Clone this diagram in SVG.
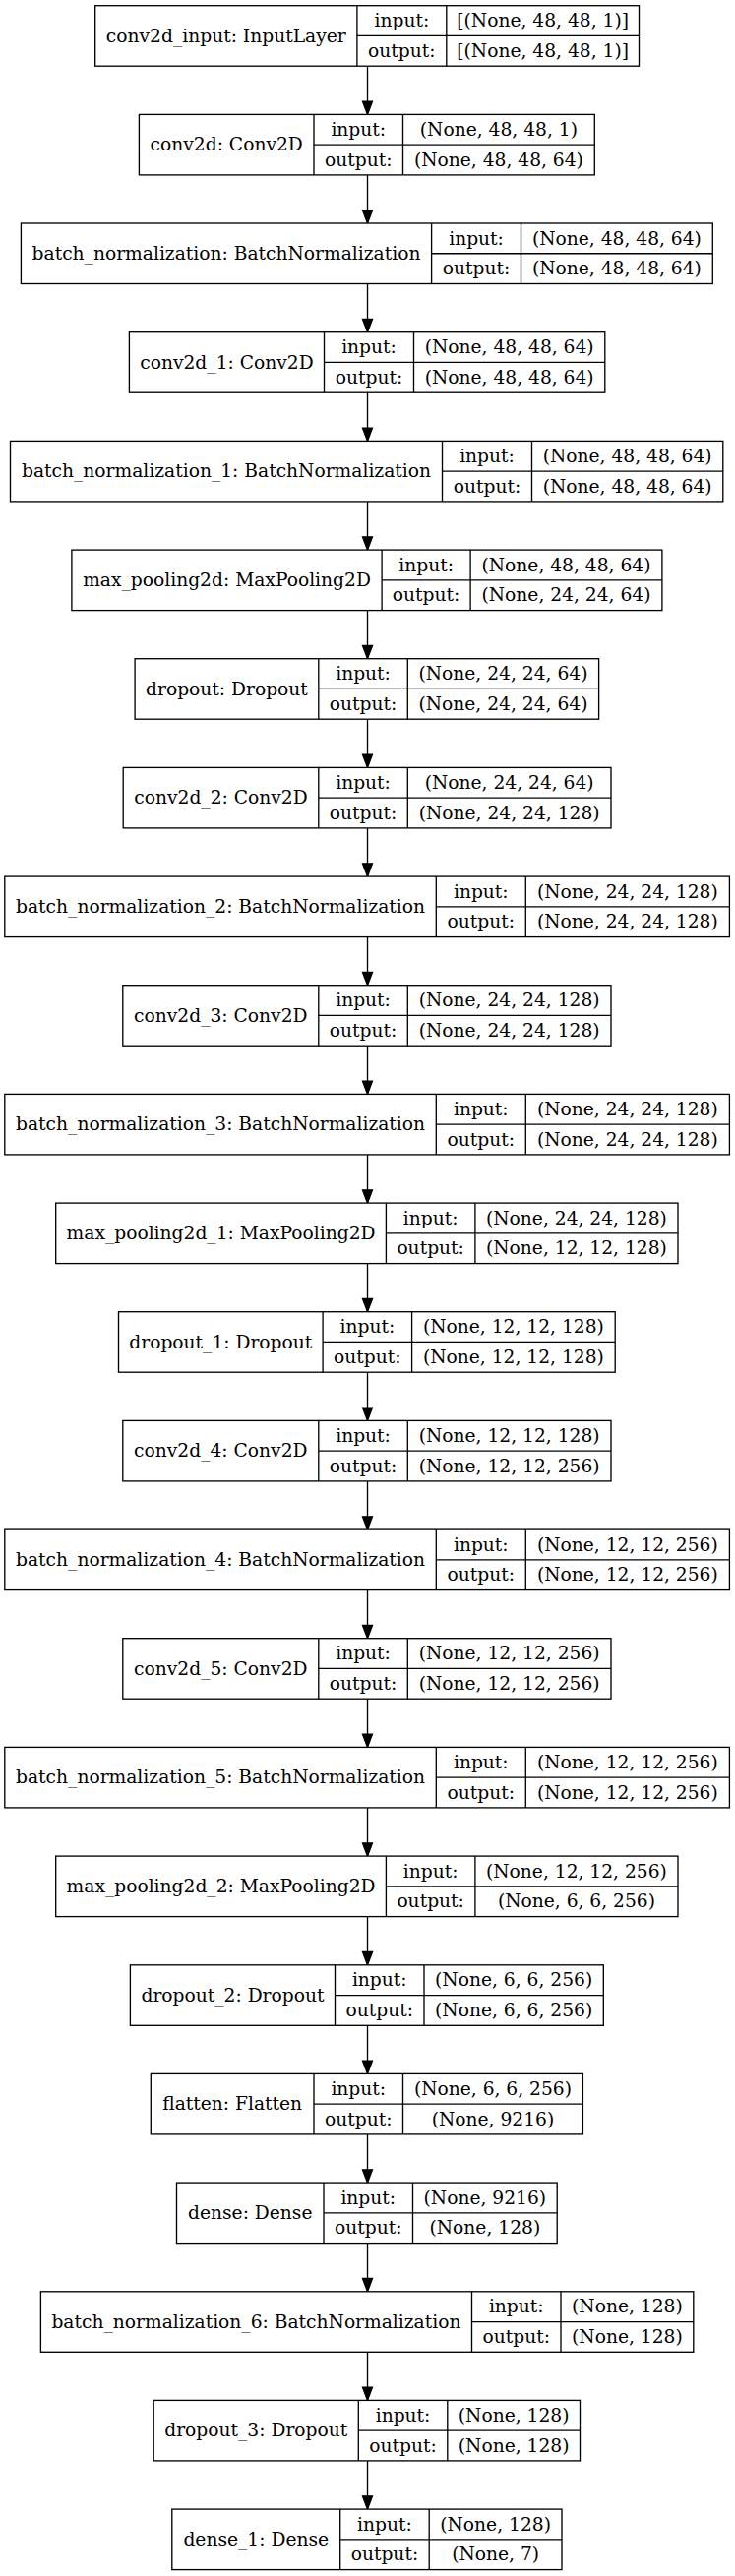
<svg xmlns="http://www.w3.org/2000/svg" width="747" height="2619" viewBox="0 0 747 2619">
<defs>
<style>
.node rect{fill:#fff;stroke:#000;stroke-width:1.33}
.node line{stroke:#000;stroke-width:1.33}
.node text{font-family:"DejaVu Serif",serif;font-size:18.67px;text-anchor:middle;fill:#000}
.edges line{stroke:#000;stroke-width:1.33}
</style>
<marker id="ah" markerUnits="userSpaceOnUse" markerWidth="16" markerHeight="12" refX="13.3" refY="5" orient="auto" overflow="visible">
<path d="M0,0 L13.3,5 L0,10 Z" fill="#000" stroke="#000" stroke-width="1.33"/>
</marker>
</defs>
<rect x="0" y="0" width="747" height="2619" fill="#fff"/>
<g id="edges" class="edges" marker-end="url(#ah)">
<line x1="373.5" y1="67.2" x2="373.5" y2="116.4" marker-end="url(#ah)"/>
<line x1="373.5" y1="177.9" x2="373.5" y2="227.0" marker-end="url(#ah)"/>
<line x1="373.5" y1="288.5" x2="373.5" y2="337.7" marker-end="url(#ah)"/>
<line x1="373.5" y1="399.2" x2="373.5" y2="448.4" marker-end="url(#ah)"/>
<line x1="373.5" y1="509.9" x2="373.5" y2="559.1" marker-end="url(#ah)"/>
<line x1="373.5" y1="620.6" x2="373.5" y2="669.7" marker-end="url(#ah)"/>
<line x1="373.5" y1="731.2" x2="373.5" y2="780.4" marker-end="url(#ah)"/>
<line x1="373.5" y1="841.9" x2="373.5" y2="891.1" marker-end="url(#ah)"/>
<line x1="373.5" y1="952.6" x2="373.5" y2="1001.7" marker-end="url(#ah)"/>
<line x1="373.5" y1="1063.2" x2="373.5" y2="1112.4" marker-end="url(#ah)"/>
<line x1="373.5" y1="1173.9" x2="373.5" y2="1223.1" marker-end="url(#ah)"/>
<line x1="373.5" y1="1284.6" x2="373.5" y2="1333.7" marker-end="url(#ah)"/>
<line x1="373.5" y1="1395.2" x2="373.5" y2="1444.4" marker-end="url(#ah)"/>
<line x1="373.5" y1="1505.9" x2="373.5" y2="1555.1" marker-end="url(#ah)"/>
<line x1="373.5" y1="1616.6" x2="373.5" y2="1665.7" marker-end="url(#ah)"/>
<line x1="373.5" y1="1727.2" x2="373.5" y2="1776.4" marker-end="url(#ah)"/>
<line x1="373.5" y1="1837.9" x2="373.5" y2="1887.1" marker-end="url(#ah)"/>
<line x1="373.5" y1="1948.6" x2="373.5" y2="1997.8" marker-end="url(#ah)"/>
<line x1="373.5" y1="2059.3" x2="373.5" y2="2108.4" marker-end="url(#ah)"/>
<line x1="373.5" y1="2169.9" x2="373.5" y2="2219.1" marker-end="url(#ah)"/>
<line x1="373.5" y1="2280.6" x2="373.5" y2="2329.8" marker-end="url(#ah)"/>
<line x1="373.5" y1="2391.3" x2="373.5" y2="2440.4" marker-end="url(#ah)"/>
<line x1="373.5" y1="2501.9" x2="373.5" y2="2551.1" marker-end="url(#ah)"/>
</g>

<g id="n0" class="node" transform="translate(0,5.7)">
<rect x="96.7" y="0" width="552.8" height="61.5"/>
<line x1="362.9" y1="0" x2="362.9" y2="61.5"/><line x1="453.8" y1="0" x2="453.8" y2="61.5"/><line x1="362.9" y1="30.75" x2="649.5" y2="30.75"/>
<text x="229.8" y="37">conv2d_input: InputLayer</text>
<text x="408.35" y="21.6">input:</text><text x="408.35" y="52.3">output:</text>
<text x="551.65" y="21.6">[(None, 48, 48, 1)]</text><text x="551.65" y="52.3">[(None, 48, 48, 1)]</text>
</g>

<g id="n1" class="node" transform="translate(0,116.4)">
<rect x="141.4" y="0" width="462.9" height="61.5"/>
<line x1="319" y1="0" x2="319" y2="61.5"/><line x1="409.5" y1="0" x2="409.5" y2="61.5"/><line x1="319" y1="30.75" x2="604.3" y2="30.75"/>
<text x="230.2" y="37">conv2d: Conv2D</text>
<text x="364.25" y="21.6">input:</text><text x="364.25" y="52.3">output:</text>
<text x="506.9" y="21.6">(None, 48, 48, 1)</text><text x="506.9" y="52.3">(None, 48, 48, 64)</text>
</g>

<g id="n2" class="node" transform="translate(0,227.0)">
<rect x="21.4" y="0" width="702.9" height="61.5"/>
<line x1="438.6" y1="0" x2="438.6" y2="61.5"/><line x1="529.5" y1="0" x2="529.5" y2="61.5"/><line x1="438.6" y1="30.75" x2="724.3" y2="30.75"/>
<text x="230" y="37">batch_normalization: BatchNormalization</text>
<text x="484.05" y="21.6">input:</text><text x="484.05" y="52.3">output:</text>
<text x="626.9" y="21.6">(None, 48, 48, 64)</text><text x="626.9" y="52.3">(None, 48, 48, 64)</text>
</g>

<g id="n3" class="node" transform="translate(0,337.7)">
<rect x="131.4" y="0" width="483.4" height="61.5"/>
<line x1="329.5" y1="0" x2="329.5" y2="61.5"/><line x1="420.5" y1="0" x2="420.5" y2="61.5"/><line x1="329.5" y1="30.75" x2="614.8" y2="30.75"/>
<text x="230.45" y="37">conv2d_1: Conv2D</text>
<text x="375" y="21.6">input:</text><text x="375" y="52.3">output:</text>
<text x="517.65" y="21.6">(None, 48, 48, 64)</text><text x="517.65" y="52.3">(None, 48, 48, 64)</text>
</g>

<g id="n4" class="node" transform="translate(0,448.4)">
<rect x="10.5" y="0" width="724.3" height="61.5"/>
<line x1="449.5" y1="0" x2="449.5" y2="61.5"/><line x1="540.5" y1="0" x2="540.5" y2="61.5"/><line x1="449.5" y1="30.75" x2="734.8" y2="30.75"/>
<text x="230" y="37">batch_normalization_1: BatchNormalization</text>
<text x="495" y="21.6">input:</text><text x="495" y="52.3">output:</text>
<text x="637.65" y="21.6">(None, 48, 48, 64)</text><text x="637.65" y="52.3">(None, 48, 48, 64)</text>
</g>

<g id="n5" class="node" transform="translate(0,559.1)">
<rect x="72.9" y="0" width="600" height="61.5"/>
<line x1="388.1" y1="0" x2="388.1" y2="61.5"/><line x1="478.1" y1="0" x2="478.1" y2="61.5"/><line x1="388.1" y1="30.75" x2="672.9" y2="30.75"/>
<text x="230.5" y="37">max_pooling2d: MaxPooling2D</text>
<text x="433.1" y="21.6">input:</text><text x="433.1" y="52.3">output:</text>
<text x="575.5" y="21.6">(None, 48, 48, 64)</text><text x="575.5" y="52.3">(None, 24, 24, 64)</text>
</g>

<g id="n6" class="node" transform="translate(0,669.7)">
<rect x="137.1" y="0" width="471.5" height="61.5"/>
<line x1="323.8" y1="0" x2="323.8" y2="61.5"/><line x1="414.3" y1="0" x2="414.3" y2="61.5"/><line x1="323.8" y1="30.75" x2="608.6" y2="30.75"/>
<text x="230.45" y="37">dropout: Dropout</text>
<text x="369.05" y="21.6">input:</text><text x="369.05" y="52.3">output:</text>
<text x="511.45" y="21.6">(None, 24, 24, 64)</text><text x="511.45" y="52.3">(None, 24, 24, 64)</text>
</g>

<g id="n7" class="node" transform="translate(0,780.4)">
<rect x="125.2" y="0" width="495.8" height="61.5"/>
<line x1="323.8" y1="0" x2="323.8" y2="61.5"/><line x1="414.3" y1="0" x2="414.3" y2="61.5"/><line x1="323.8" y1="30.75" x2="621" y2="30.75"/>
<text x="224.5" y="37">conv2d_2: Conv2D</text>
<text x="369.05" y="21.6">input:</text><text x="369.05" y="52.3">output:</text>
<text x="517.65" y="21.6">(None, 24, 24, 64)</text><text x="517.65" y="52.3">(None, 24, 24, 128)</text>
</g>

<g id="n8" class="node" transform="translate(0,891.1)">
<rect x="4.8" y="0" width="736.6" height="61.5"/>
<line x1="443.3" y1="0" x2="443.3" y2="61.5"/><line x1="534.3" y1="0" x2="534.3" y2="61.5"/><line x1="443.3" y1="30.75" x2="741.4" y2="30.75"/>
<text x="224.05" y="37">batch_normalization_2: BatchNormalization</text>
<text x="488.8" y="21.6">input:</text><text x="488.8" y="52.3">output:</text>
<text x="637.85" y="21.6">(None, 24, 24, 128)</text><text x="637.85" y="52.3">(None, 24, 24, 128)</text>
</g>

<g id="n9" class="node" transform="translate(0,1001.7)">
<rect x="124.8" y="0" width="496.2" height="61.5"/>
<line x1="323.8" y1="0" x2="323.8" y2="61.5"/><line x1="414.3" y1="0" x2="414.3" y2="61.5"/><line x1="323.8" y1="30.75" x2="621" y2="30.75"/>
<text x="224.3" y="37">conv2d_3: Conv2D</text>
<text x="369.05" y="21.6">input:</text><text x="369.05" y="52.3">output:</text>
<text x="517.65" y="21.6">(None, 24, 24, 128)</text><text x="517.65" y="52.3">(None, 24, 24, 128)</text>
</g>

<g id="n10" class="node" transform="translate(0,1112.4)">
<rect x="4.8" y="0" width="736.6" height="61.5"/>
<line x1="443.3" y1="0" x2="443.3" y2="61.5"/><line x1="534.3" y1="0" x2="534.3" y2="61.5"/><line x1="443.3" y1="30.75" x2="741.4" y2="30.75"/>
<text x="224.05" y="37">batch_normalization_3: BatchNormalization</text>
<text x="488.8" y="21.6">input:</text><text x="488.8" y="52.3">output:</text>
<text x="637.85" y="21.6">(None, 24, 24, 128)</text><text x="637.85" y="52.3">(None, 24, 24, 128)</text>
</g>

<g id="n11" class="node" transform="translate(0,1223.1)">
<rect x="56.7" y="0" width="632.3" height="61.5"/>
<line x1="392.4" y1="0" x2="392.4" y2="61.5"/><line x1="482.9" y1="0" x2="482.9" y2="61.5"/><line x1="392.4" y1="30.75" x2="689" y2="30.75"/>
<text x="224.55" y="37">max_pooling2d_1: MaxPooling2D</text>
<text x="437.65" y="21.6">input:</text><text x="437.65" y="52.3">output:</text>
<text x="585.95" y="21.6">(None, 24, 24, 128)</text><text x="585.95" y="52.3">(None, 12, 12, 128)</text>
</g>

<g id="n12" class="node" transform="translate(0,1333.7)">
<rect x="120.5" y="0" width="504.7" height="61.5"/>
<line x1="328.1" y1="0" x2="328.1" y2="61.5"/><line x1="418.6" y1="0" x2="418.6" y2="61.5"/><line x1="328.1" y1="30.75" x2="625.2" y2="30.75"/>
<text x="224.3" y="37">dropout_1: Dropout</text>
<text x="373.35" y="21.6">input:</text><text x="373.35" y="52.3">output:</text>
<text x="521.9" y="21.6">(None, 12, 12, 128)</text><text x="521.9" y="52.3">(None, 12, 12, 128)</text>
</g>

<g id="n13" class="node" transform="translate(0,1444.4)">
<rect x="124.8" y="0" width="496.2" height="61.5"/>
<line x1="323.8" y1="0" x2="323.8" y2="61.5"/><line x1="414.3" y1="0" x2="414.3" y2="61.5"/><line x1="323.8" y1="30.75" x2="621" y2="30.75"/>
<text x="224.3" y="37">conv2d_4: Conv2D</text>
<text x="369.05" y="21.6">input:</text><text x="369.05" y="52.3">output:</text>
<text x="517.65" y="21.6">(None, 12, 12, 128)</text><text x="517.65" y="52.3">(None, 12, 12, 256)</text>
</g>

<g id="n14" class="node" transform="translate(0,1555.1)">
<rect x="4.8" y="0" width="736.6" height="61.5"/>
<line x1="443.3" y1="0" x2="443.3" y2="61.5"/><line x1="534.3" y1="0" x2="534.3" y2="61.5"/><line x1="443.3" y1="30.75" x2="741.4" y2="30.75"/>
<text x="224.05" y="37">batch_normalization_4: BatchNormalization</text>
<text x="488.8" y="21.6">input:</text><text x="488.8" y="52.3">output:</text>
<text x="637.85" y="21.6">(None, 12, 12, 256)</text><text x="637.85" y="52.3">(None, 12, 12, 256)</text>
</g>

<g id="n15" class="node" transform="translate(0,1665.7)">
<rect x="124.8" y="0" width="496.2" height="61.5"/>
<line x1="323.8" y1="0" x2="323.8" y2="61.5"/><line x1="414.3" y1="0" x2="414.3" y2="61.5"/><line x1="323.8" y1="30.75" x2="621" y2="30.75"/>
<text x="224.3" y="37">conv2d_5: Conv2D</text>
<text x="369.05" y="21.6">input:</text><text x="369.05" y="52.3">output:</text>
<text x="517.65" y="21.6">(None, 12, 12, 256)</text><text x="517.65" y="52.3">(None, 12, 12, 256)</text>
</g>

<g id="n16" class="node" transform="translate(0,1776.4)">
<rect x="4.8" y="0" width="736.6" height="61.5"/>
<line x1="443.3" y1="0" x2="443.3" y2="61.5"/><line x1="534.3" y1="0" x2="534.3" y2="61.5"/><line x1="443.3" y1="30.75" x2="741.4" y2="30.75"/>
<text x="224.05" y="37">batch_normalization_5: BatchNormalization</text>
<text x="488.8" y="21.6">input:</text><text x="488.8" y="52.3">output:</text>
<text x="637.85" y="21.6">(None, 12, 12, 256)</text><text x="637.85" y="52.3">(None, 12, 12, 256)</text>
</g>

<g id="n17" class="node" transform="translate(0,1887.1)">
<rect x="56.7" y="0" width="632.3" height="61.5"/>
<line x1="392.4" y1="0" x2="392.4" y2="61.5"/><line x1="482.9" y1="0" x2="482.9" y2="61.5"/><line x1="392.4" y1="30.75" x2="689" y2="30.75"/>
<text x="224.55" y="37">max_pooling2d_2: MaxPooling2D</text>
<text x="437.65" y="21.6">input:</text><text x="437.65" y="52.3">output:</text>
<text x="585.95" y="21.6">(None, 12, 12, 256)</text><text x="585.95" y="52.3">(None, 6, 6, 256)</text>
</g>

<g id="n18" class="node" transform="translate(0,1997.8)">
<rect x="132.4" y="0" width="480.9" height="61.5"/>
<line x1="340.5" y1="0" x2="340.5" y2="61.5"/><line x1="431" y1="0" x2="431" y2="61.5"/><line x1="340.5" y1="30.75" x2="613.3" y2="30.75"/>
<text x="236.45" y="37">dropout_2: Dropout</text>
<text x="385.75" y="21.6">input:</text><text x="385.75" y="52.3">output:</text>
<text x="522.15" y="21.6">(None, 6, 6, 256)</text><text x="522.15" y="52.3">(None, 6, 6, 256)</text>
</g>

<g id="n19" class="node" transform="translate(0,2108.4)">
<rect x="153.3" y="0" width="439.1" height="61.5"/>
<line x1="319" y1="0" x2="319" y2="61.5"/><line x1="409.5" y1="0" x2="409.5" y2="61.5"/><line x1="319" y1="30.75" x2="592.4" y2="30.75"/>
<text x="236.15" y="37">flatten: Flatten</text>
<text x="364.25" y="21.6">input:</text><text x="364.25" y="52.3">output:</text>
<text x="500.95" y="21.6">(None, 6, 6, 256)</text><text x="500.95" y="52.3">(None, 9216)</text>
</g>

<g id="n20" class="node" transform="translate(0,2219.1)">
<rect x="179.5" y="0" width="386.7" height="61.5"/>
<line x1="329" y1="0" x2="329" y2="61.5"/><line x1="419.5" y1="0" x2="419.5" y2="61.5"/><line x1="329" y1="30.75" x2="566.2" y2="30.75"/>
<text x="254.25" y="37">dense: Dense</text>
<text x="374.25" y="21.6">input:</text><text x="374.25" y="52.3">output:</text>
<text x="492.85" y="21.6">(None, 9216)</text><text x="492.85" y="52.3">(None, 128)</text>
</g>

<g id="n21" class="node" transform="translate(0,2329.8)">
<rect x="41.4" y="0" width="663.4" height="61.5"/>
<line x1="479.5" y1="0" x2="479.5" y2="61.5"/><line x1="570" y1="0" x2="570" y2="61.5"/><line x1="479.5" y1="30.75" x2="704.8" y2="30.75"/>
<text x="260.45" y="37">batch_normalization_6: BatchNormalization</text>
<text x="524.75" y="21.6">input:</text><text x="524.75" y="52.3">output:</text>
<text x="637.4" y="21.6">(None, 128)</text><text x="637.4" y="52.3">(None, 128)</text>
</g>

<g id="n22" class="node" transform="translate(0,2440.4)">
<rect x="156.2" y="0" width="433.3" height="61.5"/>
<line x1="364.3" y1="0" x2="364.3" y2="61.5"/><line x1="454.8" y1="0" x2="454.8" y2="61.5"/><line x1="364.3" y1="30.75" x2="589.5" y2="30.75"/>
<text x="260.25" y="37">dropout_3: Dropout</text>
<text x="409.55" y="21.6">input:</text><text x="409.55" y="52.3">output:</text>
<text x="522.15" y="21.6">(None, 128)</text><text x="522.15" y="52.3">(None, 128)</text>
</g>

<g id="n23" class="node" transform="translate(0,2551.1)">
<rect x="174.8" y="0" width="396.2" height="61.5"/>
<line x1="345.7" y1="0" x2="345.7" y2="61.5"/><line x1="436.2" y1="0" x2="436.2" y2="61.5"/><line x1="345.7" y1="30.75" x2="571" y2="30.75"/>
<text x="260.25" y="37">dense_1: Dense</text>
<text x="390.95" y="21.6">input:</text><text x="390.95" y="52.3">output:</text>
<text x="503.6" y="21.6">(None, 128)</text><text x="503.6" y="52.3">(None, 7)</text>
</g>
</svg>
